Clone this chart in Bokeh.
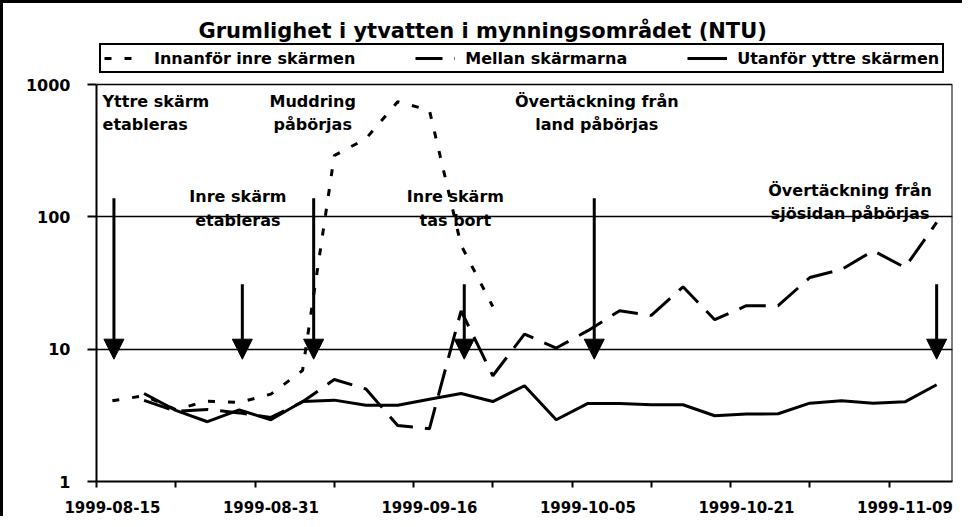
from bokeh.plotting import figure
from bokeh.models import (ColumnDataSource, Range1d, FixedTicker, Legend, LegendItem,
                          Arrow, NormalHead, BasicTickFormatter)
from bokeh.core.properties import value
from bokeh.embed import file_html
from bokeh.resources import INLINE

nan = float("nan")

# ---------------- data ----------------
title_text = "Grumlighet i ytvatten i mynningsområdet (NTU)"
series_names = ["Innanför inre skärmen", "Mellan skärmarna", "Utanför yttre skärmen"]

# 27 sampling occasions (category axis); every 5th is labelled
tick_labels = ["1999-08-15", "1999-08-31", "1999-09-16", "1999-10-05", "1999-10-21", "1999-11-09"]
label_step = 5
n_cat = 27
categories = list(range(n_cat))

innanfor = [4.07, 4.45, 3.5, 4.05, 3.96, 4.57, 6.9, 290, 390, 740, 640, 61, 21,
            nan, nan, nan, nan, nan, nan, nan, nan, nan, nan, nan, nan, nan, nan]
mellan = [nan, 4.1, 3.4, 3.5, 3.3, 3.05, 4.0, 5.9, 5.0, 2.65, 2.5, 19.5, 6.3,
          13.0, 10.2, 13.8, 19.5, 18.0, 29.6, 16.7, 21.3, 21.3, 34.8, 40.0, 55.5, 41.4, 90.7]
utanfor = [nan, 4.62, 3.45, 2.83, 3.48, 2.93, 4.02, 4.12, 3.77, 3.77, 4.19, 4.62, 4.02,
           5.29, 2.93, 3.89, 3.89, 3.8, 3.8, 3.14, 3.23, 3.25, 3.91, 4.07, 3.91, 4.0, 5.38]

y_ticks = [1, 10, 100, 1000]

# events (arrows) : category position, arrow start value, arrow tip value
event_cat = [0.05, 4.1, 6.35, 11.1, 15.2, 26.0]
arrow_top = [138, 31, 138, 31, 138, 31]
arrow_tip = [8.4, 8.4, 8.4, 8.4, 8.4, 8.4]

# event labels
left_label_text = ["Yttre skärm\netableras"]
left_label_cat = [-0.31]
left_label_top = [880]
center_label_text = ["Muddring\npåbörjas", "Inre skärm\netableras", "Inre skärm\ntas bort",
                     "Övertäckning från\nland påbörjas", "Övertäckning från\nsjösidan påbörjas"]
center_label_cat = [6.32, 3.96, 10.82, 15.28, 23.27]
center_label_top = [880, 167, 167, 880, 188]

FONT = "DejaVu Sans"
# the frame reaches above the 1000 line to hold the legend band
Y_TOP = 2077

# ---------------- figure ----------------
p = figure(width=962, height=516, y_axis_type="log",
           x_range=Range1d(-0.5, n_cat - 0.5), y_range=Range1d(y_ticks[0], Y_TOP),
           output_backend="svg", toolbar_location=None,
           min_border_left=96, min_border_right=10, min_border_top=42, min_border_bottom=35,
           styles={"box-shadow": "inset 3px 3px 0px 0px black"})

p.title.text = title_text
p.title.align = "left"
p.title.offset = 102
p.title.standoff = 0
p.title.text_font = FONT
p.title.text_font_size = "21px"
p.title.text_font_style = "bold"
p.title.text_color = "black"

p.outline_line_color = None
p.background_fill_color = "white"
p.border_fill_alpha = 0

# grid (the 1000 line is the top edge of the plot area)
p.xgrid.visible = False
p.ygrid.ticker = FixedTicker(ticks=y_ticks)
p.ygrid.grid_line_color = "black"
p.ygrid.grid_line_width = 1.6

# right edge of the plot area
p.segment(x0=[n_cat - 0.5], y0=[y_ticks[0]], x1=[n_cat - 0.5], y1=[y_ticks[-1]],
          line_color="black", line_width=2)

# y axis
p.yaxis.ticker = FixedTicker(ticks=y_ticks, minor_ticks=[])
p.yaxis.bounds = (y_ticks[0], y_ticks[-1])
p.yaxis.formatter = BasicTickFormatter()
p.yaxis.axis_line_color = "black"
p.yaxis.axis_line_width = 2
p.yaxis.major_tick_in = 0
p.yaxis.major_tick_out = 9
p.yaxis.major_tick_line_width = 2
p.yaxis.minor_tick_out = 0
p.yaxis.minor_tick_in = 0
p.yaxis.major_label_standoff = 17
p.yaxis.major_label_text_font = FONT
p.yaxis.major_label_text_font_style = "bold"
p.yaxis.major_label_text_font_size = "16px"
p.yaxis.major_label_text_color = "black"

# x axis
label_pos = [i * label_step for i in range(len(tick_labels))]
tick_marks = [-0.5 + 2.5 * k for k in range(11)]
p.xaxis.ticker = FixedTicker(ticks=label_pos, minor_ticks=tick_marks)
p.xaxis.major_label_overrides = {pos: lab for pos, lab in zip(label_pos, tick_labels)}
p.xaxis.axis_line_color = "black"
p.xaxis.axis_line_width = 2
p.xaxis.major_tick_in = 0
p.xaxis.major_tick_out = 0
p.xaxis.minor_tick_in = 0
p.xaxis.minor_tick_out = 6
p.xaxis.minor_tick_line_width = 2
p.xaxis.minor_tick_line_color = "black"
p.xaxis.major_label_standoff = 13
p.xaxis.major_label_text_font = FONT
p.xaxis.major_label_text_font_style = "bold"
p.xaxis.major_label_text_font_size = "15px"
p.xaxis.major_label_text_color = "black"

# series
src = ColumnDataSource(dict(x=categories, a=innanfor, b=mellan, c=utanfor))
r1 = p.line("x", "a", source=src, line_color="black", line_width=3, line_dash="7 13")
r2 = p.line("x", "b", source=src, line_color="black", line_width=3, line_dash="27 12")
r3 = p.line("x", "c", source=src, line_color="black", line_width=3)

# arrows
asrc = ColumnDataSource(dict(x=event_cat, y0=arrow_top, y1=arrow_tip))
p.add_layout(Arrow(end=NormalHead(size=20, fill_color="black", line_color="black", line_width=1),
                   x_start="x", y_start="y0", x_end="x", y_end="y1", source=asrc,
                   line_color="black", line_width=3))

# labels
lsrc = ColumnDataSource(dict(x=left_label_cat, y=left_label_top, t=left_label_text))
p.text("x", "y", text="t", source=lsrc, text_align="left", text_baseline="top",
       text_font=value(FONT), text_font_style="bold", text_font_size="16px",
       text_line_height=1.24, text_color="black")
csrc = ColumnDataSource(dict(x=center_label_cat, y=center_label_top, t=center_label_text))
p.text("x", "y", text="t", source=csrc, text_align="center", text_baseline="top",
       text_font=value(FONT), text_font_style="bold", text_font_size="16px",
       text_line_height=1.24, text_color="black")

# legend band above the 1000 line
legend = Legend(items=[LegendItem(label=series_names[0], renderers=[r1]),
                       LegendItem(label=series_names[1], renderers=[r2]),
                       LegendItem(label=series_names[2], renderers=[r3])],
                orientation="horizontal", location=(3, 408),
                label_text_font=FONT, label_text_font_style="bold", label_text_font_size="16px",
                label_text_color="black", glyph_width=40, glyph_height=20, label_height=20,
                label_standoff=10, spacing=60, padding=3, margin=0,
                border_line_color="black", border_line_width=2, border_line_alpha=1,
                background_fill_color="white", background_fill_alpha=1)
p.add_layout(legend, "center")

open("out.html", "w").write(file_html(p, INLINE))
